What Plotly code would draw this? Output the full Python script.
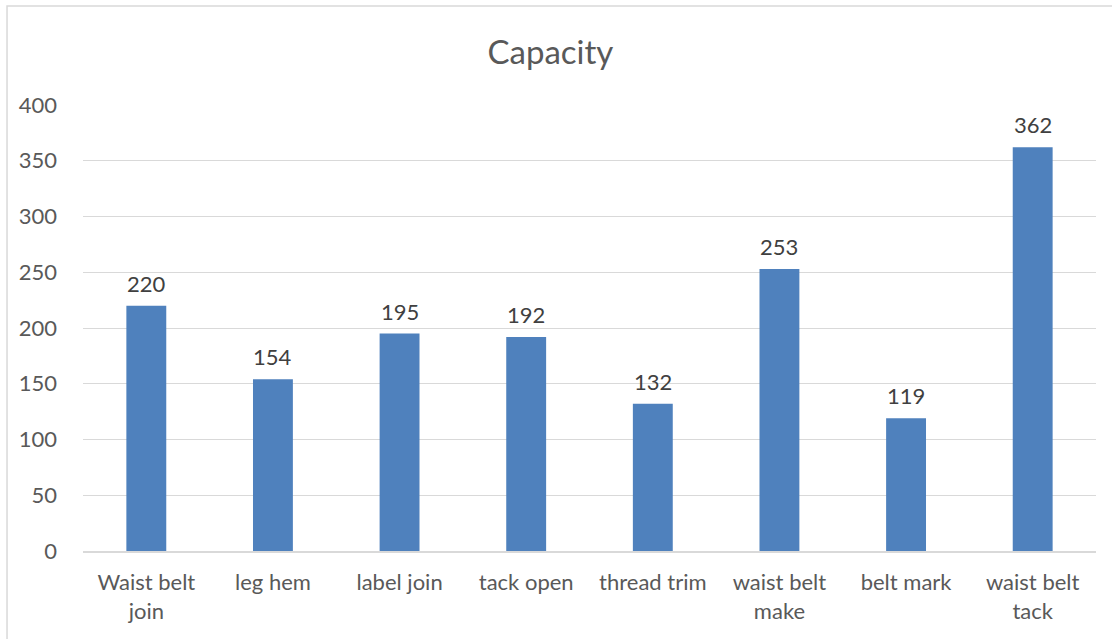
import plotly.graph_objects as go

categories = ["Waist belt<br>join", "leg hem", "label join", "tack open",
              "thread trim", "waist belt<br>make", "belt mark", "waist belt<br>tack"]
capacity = [220, 154, 195, 192, 132, 253, 119, 362]
y_ticks = [0, 50, 100, 150, 200, 250, 300, 350, 400]

text_color = "#595959"
bar_color = "#4f81bd"
font_family = "Lato, 'Open Sans', sans-serif"

fig = go.Figure()
fig.add_trace(go.Bar(
    x=categories,
    y=capacity,
    marker=dict(color=bar_color, line=dict(width=0)),
    width=0.315,
    hoverinfo="x+y",
))

# value labels above each bar
annotations = [
    dict(x=c, y=v, text=str(v), xref="x", yref="y", showarrow=False,
         yanchor="bottom", yshift=7, font=dict(size=22, color="#404040", family=font_family))
    for c, v in zip(categories, capacity)
]

fig.update_layout(
    width=1112,
    height=639,
    margin=dict(l=83, r=16, t=105, b=88),
    paper_bgcolor="white",
    plot_bgcolor="white",
    showlegend=False,
    title=dict(text="Capacity", x=0.495, xanchor="center", y=0.918, yanchor="middle",
               font=dict(size=33, color=text_color, family=font_family)),
    font=dict(family=font_family, color=text_color, size=22),
    xaxis=dict(
        showgrid=False,
        showline=True,
        linecolor="#d9d9d9",
        linewidth=1.5,
        ticks="",
        tickfont=dict(size=22, color=text_color),
        ticklabelstandoff=11,
        fixedrange=True,
    ),
    yaxis=dict(
        range=[0, 400],
        tickvals=y_ticks,
        showgrid=True,
        gridcolor="#d9d9d9",
        gridwidth=1,
        zeroline=False,
        showline=False,
        ticks="",
        tickfont=dict(size=22, color=text_color),
        ticklabelstandoff=25,
        fixedrange=True,
    ),
    annotations=annotations,
    shapes=[
        # chart frame
        dict(type="rect", xref="paper", yref="paper",
             x0=-0.075, x1=1.05, y0=-0.3, y1=1.222,
             line=dict(color="#d9d9d9", width=1.5), fillcolor="rgba(0,0,0,0)", layer="below"),
    ],
)

fig.write_html("out.html")
